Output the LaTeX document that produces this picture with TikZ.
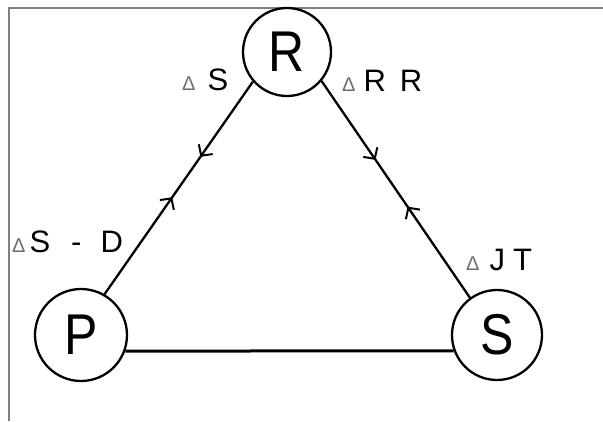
\documentclass[tikz,border=0pt]{standalone}
\usepackage{fontspec}
\setmainfont{Liberation Sans}
\usepackage{graphicx}
\usetikzlibrary{arrows.meta,decorations.markings}
\definecolor{framegray}{RGB}{128,128,128}
\definecolor{deltagray}{RGB}{110,110,110}
\newcommand{\dlt}{{\fontsize{20}{20}\selectfont\color{deltagray}Δ}}
\newcommand{\tallletter}[1]{\scalebox{1}[1.15]{#1}}
\begin{document}
\begin{tikzpicture}[x=1pt,y=-1pt,
  state/.style={circle,draw,line width=2.3pt,inner sep=0pt,font=\fontsize{50}{50}\selectfont},
  lbl/.style={font=\fontsize{31}{31}\selectfont,inner sep=0pt,anchor=west},
  conn/.style={line width=2.3pt},
  base/.style={line width=3pt},
  barbtip/.tip={Straight Barb[length=8pt,width=17pt,line width=2pt]}]
\useasboundingbox (0,0) rectangle (603,421);
\draw[framegray,line width=1.5pt] (603,8) -- (9,8) -- (9,421);
\node[state,minimum size=88pt] (R) at (287,52) {\tallletter{R}};
\node[state,minimum size=92pt] (P) at (81,335) {\tallletter{P}};
\node[state,minimum size=90pt] (S) at (497,335) {\tallletter{S}};
\draw[conn,postaction={decorate},decoration={markings,
  mark=at position 0.354 with {\arrow{barbtip}},
  mark=at position 0.544 with {\arrowreversed{barbtip}}}]
  (R.221.5) -- (P.60.8);
\draw[conn,postaction={decorate},decoration={markings,
  mark=at position 0.364 with {\arrow{barbtip}},
  mark=at position 0.58 with {\arrowreversed{barbtip}}}]
  (R.320.8) -- (S.126);
\draw[base] (P.-20.4) -- (S.200.8);
\node[lbl] (lRS) at (182,80) {\dlt\hspace{12pt}S};
\node[lbl] (lRR) at (342,81) {\dlt\hspace{8pt}R\hspace{14pt}R};
\node[lbl] (lSD) at (12,242) {\dlt\hspace{4pt}S\hspace{21pt}-\hspace{19pt}D};
\node[lbl] (lJT) at (466,260) {\dlt\hspace{10pt}J\hspace{8pt}T};
\end{tikzpicture}
\end{document}
